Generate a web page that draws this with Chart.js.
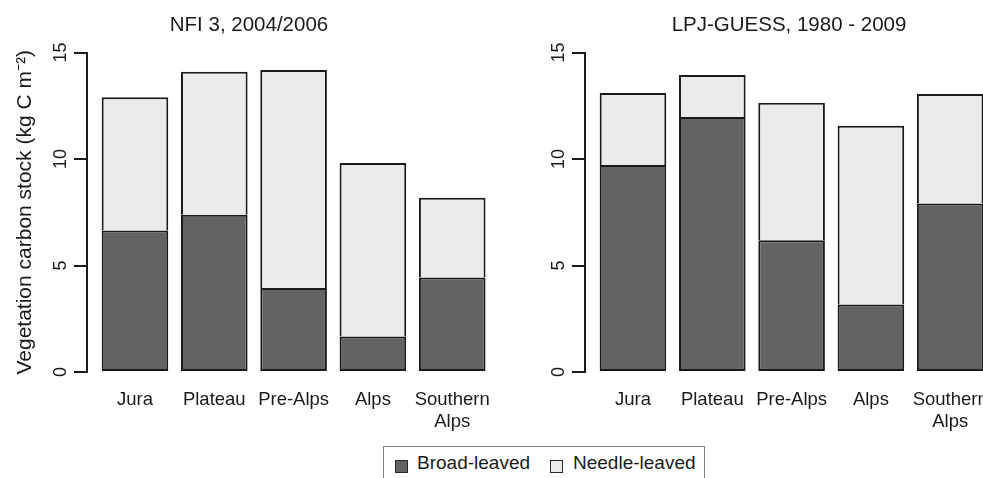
<!DOCTYPE html>
<html>
<head>
<meta charset="utf-8">
<script src="https://cdn.jsdelivr.net/npm/chart.js@4/dist/chart.umd.min.js"></script>
<style>
  html, body { margin: 0; padding: 0; background: #fff; overflow: hidden; width: 983px; height: 478px; }
  #wrap { position: relative; width: 983px; height: 478px; overflow: hidden; }
  canvas { position: absolute; top: 0; }
  #c1 { left: -10px; }
  #c2 { left: 480px; }
  #legend { position: absolute; left: 383px; top: 446px; width: 322px; height: 60px;
            border: 1px solid #7f7f7f; box-sizing: border-box; font-family: "Liberation Sans", Arial, Helvetica, sans-serif;
            font-size: 19px; color: #1a1a1a; }
  .sw { position: absolute; top: 13px; width: 11px; height: 11px; border: 1px solid #2a2a2a; }
  .lt { position: absolute; top: 6px; line-height: 20px; white-space: nowrap; }
</style>
</head>
<body>
<div id="wrap">
  <canvas id="c1" width="520" height="440"></canvas>
  <canvas id="c2" width="570" height="440"></canvas>
  <div id="legend"></div>
</div>
<script>
// ---- data ----
const categories = ['Jura', 'Plateau', 'Pre-Alps', 'Alps', 'Southern Alps'];
const seriesNames = ['Broad-leaved', 'Needle-leaved'];
const nfiTitle = 'NFI 3, 2004/2006';
const lpjTitle = 'LPJ-GUESS, 1980 - 2009';
const nfiBroad  = [6.65, 7.38, 3.95, 1.67, 4.44];
const nfiNeedle = [6.25, 6.72, 10.23, 8.15, 3.74];
const lpjBroad  = [9.72, 11.97, 6.19, 3.17, 7.91];
const lpjNeedle = [3.38, 1.98, 6.46, 8.40, 5.14];
const yTicks = [0, 5, 10, 15];
const yTitle = 'Vegetation carbon stock (kg C m\u207B\u00B2)';

// ---- styles ----
const FONT = '"Liberation Sans", Arial, Helvetica, sans-serif';
const broadColor = '#636363';
const needleColor = '#ebebeb';
const edge = '#1a1a1a';

const labelLines = categories.map(c => c.split(' '));
const toPoints = arr => arr.map((v, i) => ({ x: i, y: v }));

function makeChart(canvas, title, broad, needle, opts) {
  return new Chart(canvas, {
    type: 'bar',
    data: {
      datasets: [
        { label: seriesNames[0], data: toPoints(broad), backgroundColor: broadColor,
          borderColor: edge, borderWidth: 2, borderSkipped: false },
        { label: seriesNames[1], data: toPoints(needle), backgroundColor: needleColor,
          borderColor: edge, borderWidth: 2, borderSkipped: 'start' }
      ]
    },
    options: {
      responsive: false,
      animation: false,
      devicePixelRatio: 1,
      layout: { padding: { left: opts.padL, right: opts.padR, top: 0, bottom: 0 } },
      datasets: { bar: { categoryPercentage: 1, barPercentage: 0.84 } },
      plugins: {
        legend: { display: false },
        tooltip: { enabled: false },
        title: { display: true, text: title, color: '#1a1a1a',
                 font: { family: FONT, size: 20.5, weight: 'normal' },
                 padding: { top: 13, bottom: 15 } }
      },
      scales: {
        x: {
          type: 'linear', stacked: true, offset: false, min: -0.605, max: opts.xMax,
          grid: { display: false }, border: { display: false },
          afterBuildTicks: s => { s.ticks = categories.map((c, i) => ({ value: i })); },
          afterFit: s => { s.height = 68; },
          ticks: { autoSkip: false, maxRotation: 0, minRotation: 0, padding: 9, color: '#1a1a1a',
                   font: { family: FONT, size: 18.5 },
                   callback: v => labelLines[v] }
        },
        y: {
          stacked: true, min: 0, max: 15,
          afterBuildTicks: s => { s.ticks = yTicks.map(v => ({ value: v })); },
          afterFit: s => { s.width = opts.yWidth; },
          border: { display: true, color: edge, width: 2 },
          grid: { display: true, drawOnChartArea: false, drawTicks: true, tickLength: 13, color: edge, lineWidth: 2 },
          ticks: { minRotation: 90, maxRotation: 90, crossAlign: 'center', padding: 3, color: '#1a1a1a',
                   font: { family: FONT, size: 18 } },
          title: { display: opts.showTitle, text: yTitle, color: '#1a1a1a',
                   font: { family: FONT, size: 21 }, padding: { top: 14.6, bottom: 0 } }
        }
      }
    }
  });
}

makeChart(document.getElementById('c1'), nfiTitle, nfiBroad, nfiNeedle,
          { padL: 7.8, padR: 9.8, yWidth: 89.2, showTitle: true, xMax: 4.605 });
makeChart(document.getElementById('c2'), lpjTitle, lpjBroad, lpjNeedle,
          { padL: 58, padR: 10, yWidth: 47, showTitle: false, xMax: 5.132 });

// ---- legend (HTML, real text) ----
const legend = document.getElementById('legend');
const legendItems = [
  { name: seriesNames[0], color: broadColor, sw: 11, tx: 33 },
  { name: seriesNames[1], color: needleColor, sw: 166, tx: 189 }
];
legendItems.forEach(it => {
  const s = document.createElement('div');
  s.className = 'sw'; s.style.left = it.sw + 'px'; s.style.background = it.color;
  legend.appendChild(s);
  const t = document.createElement('div');
  t.className = 'lt'; t.style.left = it.tx + 'px'; t.textContent = it.name;
  legend.appendChild(t);
});
</script>
</body>
</html>
